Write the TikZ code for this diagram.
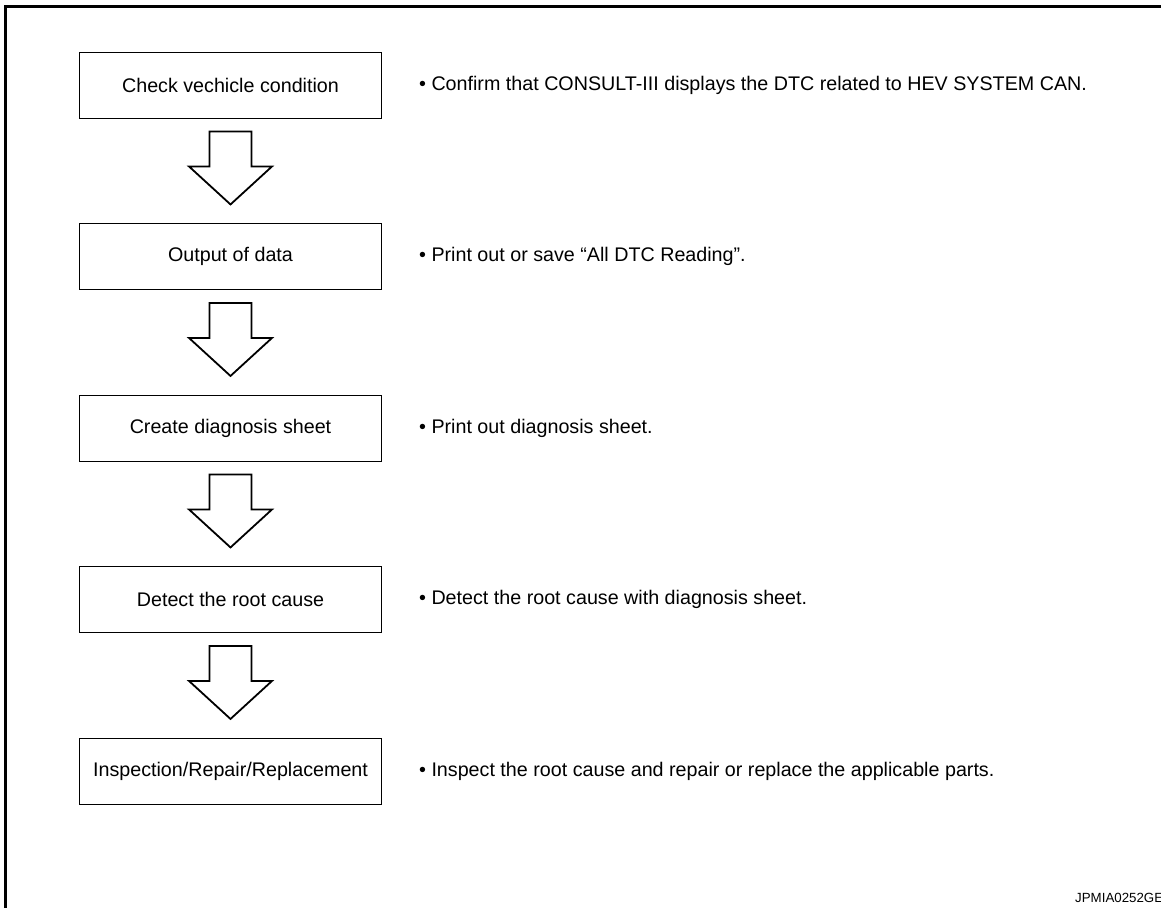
\documentclass[tikz,border=0pt]{standalone}
\usepackage{fontspec}
\setmainfont{Liberation Sans}
\usetikzlibrary{positioning,calc}
\tikzset{
  stepbox/.style={draw,line width=0.9pt,minimum width=302pt,minimum height=66pt,inner sep=0pt},
  note/.style={anchor=west,inner sep=0pt},
  blockarrow/.style={draw,line width=1.8pt,fill=white,line join=miter}
}

\begin{document}
\begin{tikzpicture}[x=1pt,y=-1pt,font=\fontsize{19.7}{24}\selectfont]
\clip (0,0) rectangle (1161,907);
% frame
\draw[line width=3pt] (5.5,912) -- (5.5,6.5) -- (1170,6.5);
% steps and notes
\foreach \i/\txt/\note in {
  1/Check vechicle condition/Confirm that CONSULT-III displays the DTC related to HEV SYSTEM CAN.,
  2/Output of data/Print out or save “All DTC Reading”.,
  3/Create diagnosis sheet/Print out diagnosis sheet.,
  4/Detect the root cause/Detect the root cause with diagnosis sheet.,
  5/{Inspection/Repair/Replacement}/Inspect the root cause and repair or replace the applicable parts.}{
  \node[stepbox] (s\i) at (230.5,{85+171.5*(\i-1)}) {\txt};
  \node[note,right=37pt of s\i] (d\i) {\textbullet\ \note};
}
% block arrows
\foreach \i in {1,...,4}{
  \draw[blockarrow] ($(s\i.south)+(-21,13)$) -- ++(0,35) -- ++(-20.5,0)
    -- ($(s\i.south)+(0,86)$) -- ($(s\i.south)+(41.5,48)$) -- ++(-20.5,0)
    -- ($(s\i.south)+(21,13)$) -- cycle;
}
\node[anchor=base west,inner sep=0pt,font=\fontsize{13.3}{16}\selectfont] (code) at (1075,902) {JPMIA0252GE};
\end{tikzpicture}
\end{document}
